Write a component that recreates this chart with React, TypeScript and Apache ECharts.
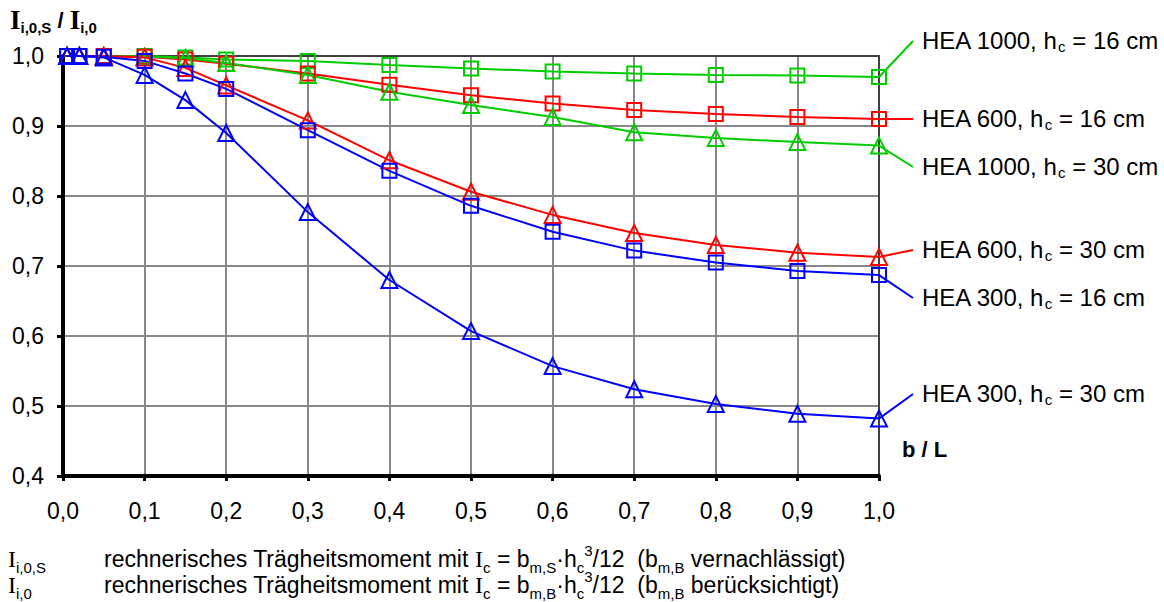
import React, { useEffect, useRef } from "react";
import * as echarts from "echarts";

const xValues = [0.005, 0.02, 0.05, 0.1, 0.15, 0.2, 0.3, 0.4, 0.5, 0.6, 0.7, 0.8, 0.9, 1.0];
const hea1000hc16 = [1, 1, 1, 1.0, 0.998, 0.995, 0.993, 0.987, 0.982, 0.978, 0.975, 0.973, 0.972, 0.970];
const hea600hc16 = [1, 1, 1, 0.999, 0.995, 0.989, 0.975, 0.959, 0.944, 0.932, 0.923, 0.917, 0.913, 0.910];
const hea1000hc30 = [1, 1, 1, 0.999, 0.997, 0.990, 0.973, 0.949, 0.930, 0.913, 0.891, 0.883, 0.877, 0.872];
const hea600hc30 = [1, 1, 1, 0.998, 0.983, 0.958, 0.908, 0.851, 0.806, 0.773, 0.747, 0.730, 0.719, 0.713];
const hea300hc16 = [1, 1, 0.999, 0.993, 0.975, 0.953, 0.894, 0.836, 0.786, 0.749, 0.722, 0.705, 0.693, 0.687];
const hea300hc30 = [1, 1, 0.998, 0.973, 0.937, 0.890, 0.777, 0.680, 0.607, 0.557, 0.524, 0.503, 0.489, 0.482];

const seriesNames = ["HEA 1000", "HEA 600", "HEA 1000", "HEA 600", "HEA 300", "HEA 300"];
const seriesHc = ["16", "16", "30", "30", "16", "30"];
const seriesValues = [hea1000hc16, hea600hc16, hea1000hc30, hea600hc30, hea300hc16, hea300hc30];
const seriesColors = ["#00cc00", "#ff0000", "#00cc00", "#ff0000", "#0000ff", "#0000ff"];
const seriesSymbols = ["rect", "rect", "triangle", "triangle", "rect", "triangle"];
// label anchor positions (layout, pixels)
const labelCenterY = [40, 118, 166, 249, 297, 393];

const SANS = "'Liberation Sans', Arial, sans-serif";
const SERIF = "'Liberation Serif', 'Times New Roman', serif";

const fmt = (v: number) => v.toFixed(1).replace(".", ",");

export default function App() {
  const ref = useRef<HTMLDivElement>(null);
  useEffect(() => {
    if (!ref.current) return;
    const chart = echarts.init(ref.current, null, { renderer: "svg" });
    const series = seriesValues.map((vals, i) => ({
      type: "line",
      name: seriesNames[i] + " " + seriesHc[i],
      data: xValues.map((x, j) => [x, vals[j]]),
      symbol: seriesSymbols[i],
      symbolSize: seriesSymbols[i] === "rect" ? 14 : 16,
      lineStyle: { color: seriesColors[i], width: 2 },
      itemStyle: { color: "rgba(0,0,0,0)", borderColor: seriesColors[i], borderWidth: 2 },
      emphasis: { disabled: true },
      z: 5,
    }));
    const subRich = {
      m: { fontSize: 24, fontFamily: SANS, lineHeight: 28, fill: "#000" },
      s: { fontSize: 15, fontFamily: SANS, lineHeight: 14, verticalAlign: "bottom", fill: "#000" },
    };
    chart.setOption({
      animation: false,
      backgroundColor: "#fff",
      grid: { left: 63, top: 56, width: 816, height: 420, containLabel: false },
      xAxis: [
        {
          type: "value",
          min: 0,
          max: 1,
          interval: 0.1,
          axisLine: { show: true, onZero: false, lineStyle: { color: "#000", width: 4 } },
          axisTick: { show: true, inside: false, length: 5, lineStyle: { color: "#000", width: 3 } },
          axisLabel: { formatter: fmt, fontSize: 23, fontFamily: SANS, color: "#000", margin: 23 },
          splitLine: { show: true, lineStyle: { color: "#888", width: 2 } },
        },
        {
          type: "value",
          position: "top",
          min: 0,
          max: 1,
          interval: 0.1,
          axisLine: { show: true, onZero: false, lineStyle: { color: "#404040", width: 2 } },
          axisTick: { show: false },
          axisLabel: { show: false },
          splitLine: { show: false },
        },
      ],
      yAxis: [
        {
          type: "value",
          min: 0.4,
          max: 1.0,
          interval: 0.1,
          axisLine: { show: true, onZero: false, lineStyle: { color: "#000", width: 4 } },
          axisTick: { show: true, inside: false, length: 6, lineStyle: { color: "#000", width: 3 } },
          axisLabel: { formatter: fmt, fontSize: 23, fontFamily: SANS, color: "#000", margin: 19 },
          splitLine: { show: true, lineStyle: { color: "#888", width: 2 } },
        },
        {
          type: "value",
          position: "right",
          min: 0.4,
          max: 1.0,
          interval: 0.1,
          axisLine: { show: true, onZero: false, lineStyle: { color: "#404040", width: 2 } },
          axisTick: { show: false },
          axisLabel: { show: false },
          splitLine: { show: false },
        },
      ],
      series,
    });

    const graphics: any[] = [];
    seriesValues.forEach((vals, i) => {
      const last = vals.length - 1;
      const p = chart.convertToPixel({ seriesIndex: i }, [xValues[last], vals[last]]) as number[];
      graphics.push({
        type: "line",
        shape: { x1: p[0], y1: p[1], x2: 913, y2: labelCenterY[i] + 1 },
        style: { stroke: seriesColors[i], lineWidth: 2 },
        z: 10,
      });
      graphics.push({
        type: "text",
        x: 922,
        y: labelCenterY[i],
        style: {
          text: `{m|${seriesNames[i]}, h}{s|c}{m| = ${seriesHc[i]} cm}`,
          rich: subRich,
          verticalAlign: "middle",
          align: "left",
        },
        z: 10,
      });
    });

    // y axis title
    graphics.push({
      type: "text",
      x: 10,
      y: 20,
      style: {
        text: "{I|I}{s|i,0,S}{t| / }{I|I}{s|i,0}",
        rich: {
          I: { fontSize: 27, fontFamily: SERIF, fontWeight: "bold", lineHeight: 30, fill: "#000" },
          s: { fontSize: 15, fontFamily: SANS, fontWeight: "bold", lineHeight: 14, verticalAlign: "bottom", fill: "#000" },
          t: { fontSize: 22, fontFamily: SANS, fontWeight: "bold", lineHeight: 30, fill: "#000" },
        },
        verticalAlign: "middle",
      },
    });
    // x axis title
    graphics.push({
      type: "text",
      x: 902,
      y: 449,
      style: { text: "b / L", fontSize: 22, fontWeight: "bold", fontFamily: SANS, fill: "#000", verticalAlign: "middle" },
    });

    const footRich = {
      t: { fontSize: 23, fontFamily: SANS, lineHeight: 32, fill: "#000" },
      I: { fontSize: 24, fontFamily: SERIF, lineHeight: 32, fill: "#000" },
      s: { fontSize: 15, fontFamily: SANS, lineHeight: 20, verticalAlign: "bottom", fill: "#000" },
      p: { fontSize: 15, fontFamily: SANS, lineHeight: 18, verticalAlign: "top", fill: "#000" },
    };
    const footLines = [
      { sym: "{I|I}{s|i,0,S}", txt: "{t|rechnerisches Trägheitsmoment mit }{I|I}{s|c}{t| = b}{s|m,S}{t|·h}{s|c}{p|3}{t|/12  (b}{s|m,B}{t| vernachlässigt)}", y: 559 },
      { sym: "{I|I}{s|i,0}", txt: "{t|rechnerisches Trägheitsmoment mit }{I|I}{s|c}{t| = b}{s|m,B}{t|·h}{s|c}{p|3}{t|/12  (b}{s|m,B}{t| berücksichtigt)}", y: 585 },
    ];
    footLines.forEach((l) => {
      graphics.push({ type: "text", x: 8, y: l.y, style: { text: l.sym, rich: footRich, verticalAlign: "middle" } });
      graphics.push({ type: "text", x: 104, y: l.y, style: { text: l.txt, rich: footRich, verticalAlign: "middle" } });
    });

    chart.setOption({ graphic: graphics });
    return () => chart.dispose();
  }, []);
  return <div ref={ref} style={{ position: "fixed", left: 0, top: 0, width: 1164, height: 602 }} />;
}
